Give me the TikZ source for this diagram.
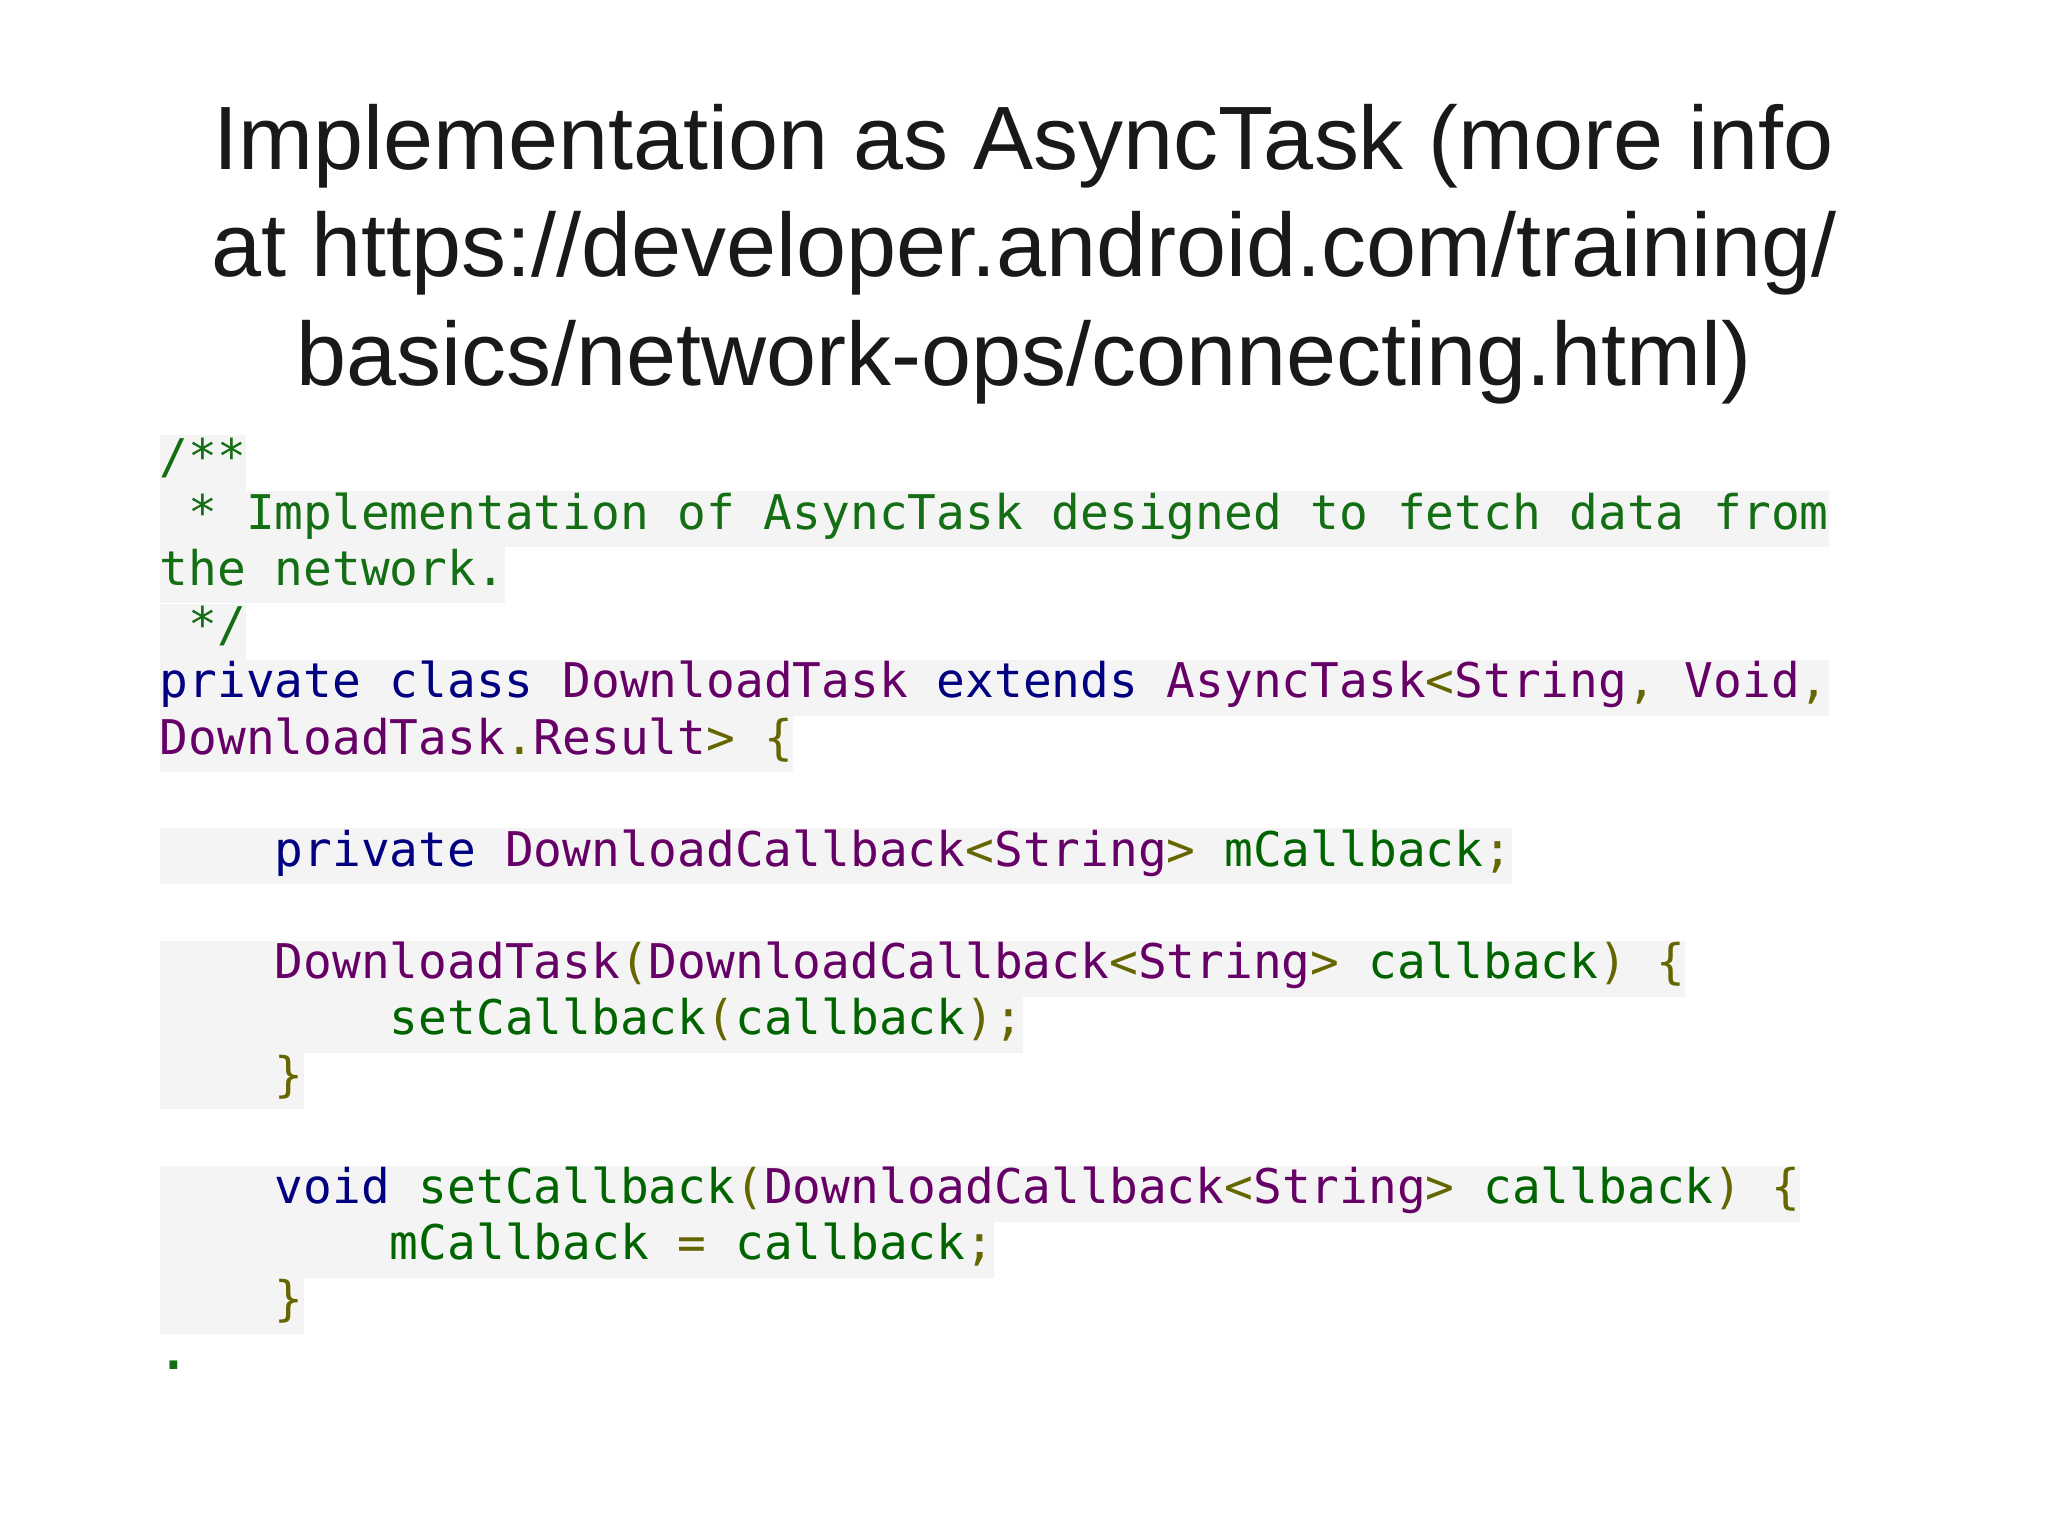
\documentclass[tikz,border=0pt]{standalone}
\usepackage{fontspec}
\setmainfont{Liberation Sans}
\newfontfamily\codefont{DejaVu Sans Mono}
\definecolor{cmt}{RGB}{20,110,20}
\definecolor{kw}{RGB}{0,0,128}
\definecolor{cls}{RGB}{102,0,102}
\definecolor{pun}{RGB}{102,102,0}
\definecolor{idn}{RGB}{0,100,0}
\definecolor{hl}{RGB}{244,244,244}
\newcommand{\cK}[1]{\textcolor{kw}{#1}}
\newcommand{\cC}[1]{\textcolor{cls}{#1}}
\newcommand{\cP}[1]{\textcolor{pun}{#1}}
\newcommand{\cI}[1]{\textcolor{idn}{#1}}
\begin{document}
\begin{tikzpicture}[x=1cm,y=1cm,
  title/.style={font=\fontsize{25.6}{30}\selectfont, anchor=center, text=black!90},
  code/.style={anchor=west, inner sep=0pt, fill=hl, text height=0.38cm, text depth=0.18cm, font=\codefont\fontsize{13.6}{16}\selectfont, text=cmt}]
\useasboundingbox (0,0) rectangle (20.48,-15.36);
\fill[white] (0,0) rectangle (20.48,-15.36);
\node[title] (t1) at (10.24,-1.46) {Implementation as AsyncTask (more info};
\node[title] (t2) at (10.24,-2.53) {at https://developer.android.com/training/};
\node[title] (t3) at (10.24,-3.62) {basics/network-ops/connecting.html)};
\def\L{1.59}
\def\p{0.562}
\def\T{-4.63}
\node[code] (c1) at (\L,\T) {/**\ };
\node[code] (c2) at (\L,\T-\p) {\ * Implementation of AsyncTask designed to fetch data from\ };
\node[code] (c3) at (\L,\T-2*\p) {the network.\ };
\node[code] (c4) at (\L,\T-3*\p) {\ */};
\node[code] (c5) at (\L,\T-4*\p) {\cK{private class}\cC{\ DownloadTask}\cK{\ extends}\cC{\ AsyncTask}\cP{<}\cC{String}\cP{,\ }\cC{Void}\cP{,}};
\node[code] (c6) at (\L,\T-5*\p) {\cC{DownloadTask}\cP{.}\cC{Result}\cP{>\ \{}\ };
\node[code] (c7) at (\L,\T-7*\p) {\ \ \ \ \cK{private}\cC{\ DownloadCallback}\cP{<}\cC{String}\cP{>}\cI{\ mCallback}\cP{;}};
\node[code] (c8) at (\L,\T-9*\p) {\ \ \ \ \cC{DownloadTask}\cP{(}\cC{DownloadCallback}\cP{<}\cC{String}\cP{>}\cI{\ callback}\cP{)\ \{}\ };
\node[code] (c9) at (\L,\T-10*\p) {\ \ \ \ \ \ \ \ \cI{setCallback}\cP{(}\cI{callback}\cP{);}\ };
\node[code] (c10) at (\L,\T-11*\p) {\ \ \ \ \cP{\}}};
\node[code] (c11) at (\L,\T-13*\p) {\ \ \ \ \cK{void}\cI{\ setCallback}\cP{(}\cC{DownloadCallback}\cP{<}\cC{String}\cP{>}\cI{\ callback}\cP{)\ \{}\ };
\node[code] (c12) at (\L,\T-14*\p) {\ \ \ \ \ \ \ \ \cI{mCallback}\cP{\ =\ }\cI{callback}\cP{;}};
\node[code] (c13) at (\L,\T-15*\p) {\ \ \ \ \cP{\}}};
\node[code, fill=none] (c14) at (\L,\T-15.95*\p) {\bfseries .};
\end{tikzpicture}
\end{document}
